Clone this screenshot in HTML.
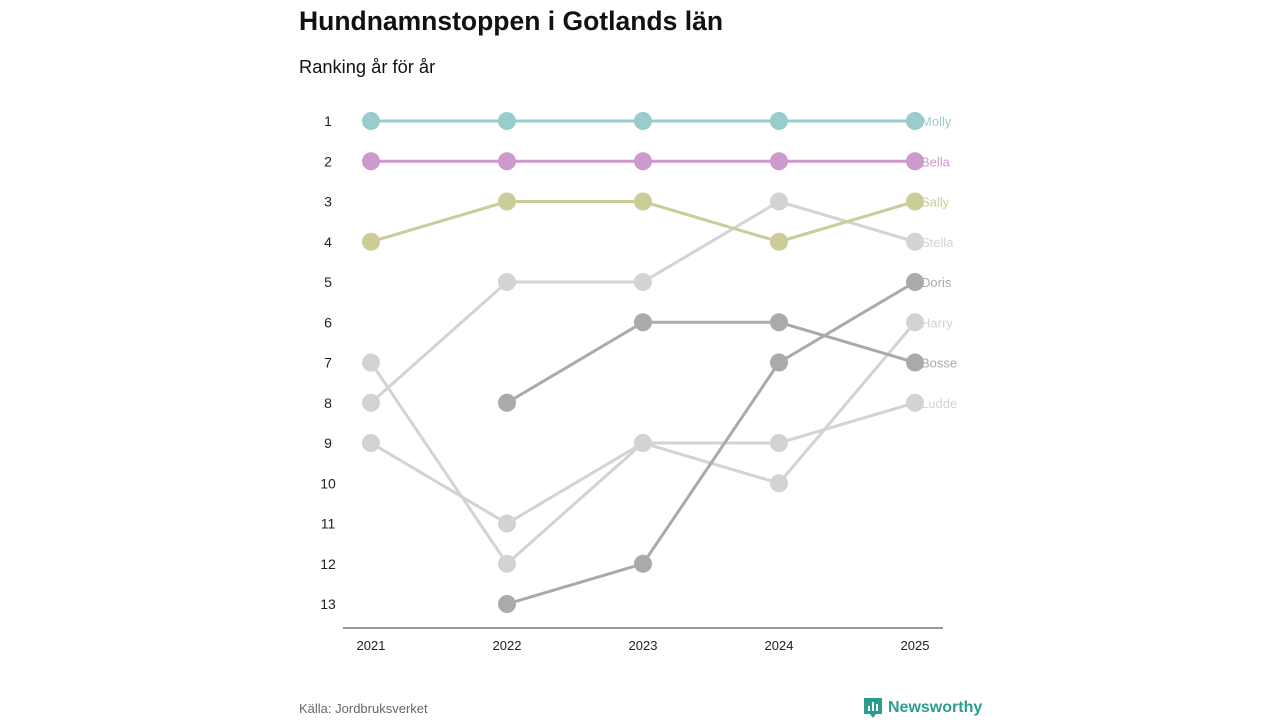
<!DOCTYPE html>
<html><head><meta charset="utf-8"><style>
body{margin:0;background:#fff;font-family:"Liberation Sans",sans-serif;}
svg text{font-family:"Liberation Sans","DejaVu Sans",sans-serif;}
</style></head><body>
<svg id="c" width="1280" height="720">
<text x="299" y="30" font-size="26.5" font-weight="bold" fill="#111">Hundnamnstoppen i Gotlands län</text>
<text x="299" y="73" font-size="18.3" fill="#111">Ranking år för år</text>
<line x1="343" y1="628" x2="943" y2="628" stroke="#333" stroke-width="1"/>
<g id="yt"></g><g id="xt"></g><g id="lines"></g><g id="dots"></g><g id="labels"></g>
<text x="299" y="713" font-size="13" fill="#666">Källa: Jordbruksverket</text>
<g>
<path d="M864 698h18v16h-6l-3 4-3-4h-6z" fill="#2a9d8f"/>
<rect x="868" y="706" width="2" height="5" fill="#fff"/><rect x="872" y="702" width="2" height="9" fill="#fff"/><rect x="876" y="704" width="2" height="7" fill="#fff"/>
<text x="888" y="712" font-size="16" font-weight="bold" fill="#2a9d8f">Newsworthy</text>
</g>
</svg>
<script>
const years=[2021,2022,2023,2024,2025];
const names=["Molly","Bella","Sally","Stella","Doris","Harry","Bosse","Ludde"];
const colors=["#99cccc","#cc99cc","#cccc99","#d3d3d3","#aaaaaa","#d3d3d3","#aaaaaa","#d3d3d3"];
const molly=[1,1,1,1,1];
const bella=[2,2,2,2,2];
const sally=[4,3,3,4,3];
const stella=[8,5,5,3,4];
const doris=[null,13,12,7,5];
const harry=[7,12,9,10,6];
const bosse=[null,8,6,6,7];
const ludde=[9,11,9,9,8];
const series=[molly,bella,sally,stella,doris,harry,bosse,ludde];
const rankTicks=[1,2,3,4,5,6,7,8,9,10,11,12,13];
const xS=i=>371+i*136;
const yS=r=>121+(r-1)*40.25;
const NS="http://www.w3.org/2000/svg";
function mk(t,a,p){const e=document.createElementNS(NS,t);for(const k in a)e.setAttribute(k,a[k]);document.getElementById(p).appendChild(e);return e;}
rankTicks.forEach(r=>{const t=mk("text",{x:328,y:yS(r)+5,"font-size":14,fill:"#222","text-anchor":"middle"},"yt");t.textContent=r;

});
years.forEach((y,i)=>{const t=mk("text",{x:xS(i),y:650,"font-size":13,fill:"#222","text-anchor":"middle"},"xt");t.textContent=y;

});
const order=[3,5,7,6,4,2,1,0];
order.forEach(s=>{const v=series[s];let pts=[];v.forEach((r,i)=>{if(r!=null)pts.push(xS(i)+","+yS(r));});
const pl=mk("polyline",{points:pts.join(" "),fill:"none",stroke:colors[s],"stroke-width":3},"lines");


v.forEach((r,i)=>{if(r==null)return;const c=mk("circle",{cx:xS(i),cy:yS(r),r:9,fill:colors[s]},"dots");

});
const t=mk("text",{x:921,y:yS(v[4])+5,"font-size":13,fill:colors[s]},"labels");t.textContent=names[s];

});
</script>
</body></html>
